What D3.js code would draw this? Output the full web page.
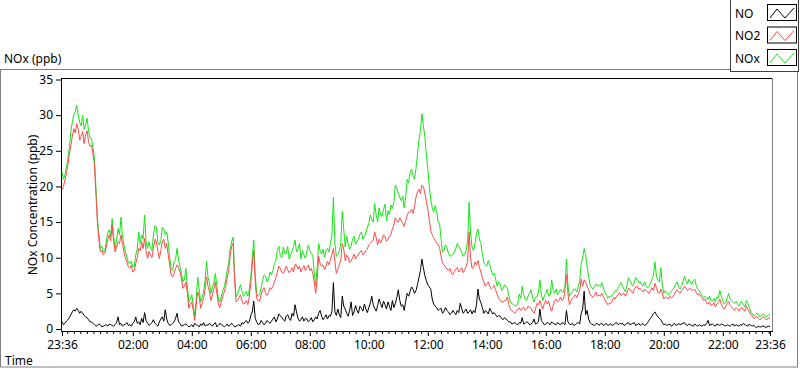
<!DOCTYPE html>
<html lang="en">
<head>
<meta charset="UTF-8" />
<title>NOx (ppb)</title>
<script src="https://cdn.jsdelivr.net/npm/d3@7"></script>
<style>
    body { margin: 0; background: #fff; overflow: hidden; }
    svg { display: block; font-family: 'Noto Sans', sans-serif; }
    .axis text { font-size: 12px; fill: #000; font-family: 'Noto Sans', sans-serif; }
    .axis line { stroke: #000; }
    .axis path { display: none; }
</style>
</head>
<body>
<svg id="chart" width="800" height="369"></svg>
<script>
    // readings every 3 minutes from 23:36: the "samples" arrays hold 23:36, 23:42, ...
    // and the "half" arrays hold the readings in between (23:39, 23:45, ...)
    const startTime = new Date(2000, 0, 1, 23, 36);
    const stepMinutes = 3;

    const noSamples = [
        1.0, 0.8, 1.3, 2.0, 2.7, 2.9, 2.2, 2.2, 1.7, 1.3,
        1.0, 0.6, 0.5, 0.6, 0.4, 0.6, 0.7, 0.5, 0.6, 1.7,
        0.8, 0.6, 0.9, 0.6, 0.8, 1.7, 1.0, 1.5, 2.3, 0.8,
        0.7, 1.3, 0.6, 1.0, 1.7, 2.7, 0.8, 0.6, 1.0, 2.2,
        0.8, 0.5, 0.7, 0.3, 0.6, 0.8, 0.5, 0.7, 0.9,
        0.6, 0.8, 0.4, 0.9, 0.5, 0.6, 0.3, 0.7, 0.5, 0.6,
        0.4, 0.6, 0.9, 1.0, 0.8, 1.9, 3.9, 1.0, 0.7, 0.9,
        0.8, 1.0, 1.1, 1.7, 1.4, 1.9, 1.3, 1.8, 1.5, 2.2,
        3.4, 1.5, 1.3, 1.1, 1.4, 1.2, 1.0, 1.7, 2.2, 1.8,
        1.6, 1.4, 1.8, 6.5, 1.9, 2.0, 4.6, 2.8,
        1.8, 3.8, 2.4, 2.6, 3.2, 2.5, 2.8, 3.0, 4.6, 2.9,
        3.3, 3.6, 3.9, 2.8, 3.2, 4.0, 3.6, 5.5, 3.2, 2.6,
        5.0, 5.3, 5.6, 5.4, 7.2, 9.8, 7.5, 6.2, 5.6, 3.5,
        3.0, 2.8, 2.2, 3.0, 2.4, 2.2, 2.3, 2.6, 3.6, 2.2,
        2.8, 2.4, 2.1, 2.3, 5.6,
        3.7, 2.2, 2.4, 2.9, 2.1, 2.0, 1.9, 1.5, 1.6, 1.2,
        1.0, 0.8, 0.7, 0.9, 1.6, 0.8, 0.9, 0.7, 1.4, 0.8,
        2.8, 0.9, 0.7, 0.8, 1.0, 0.7, 0.9, 0.6, 0.8, 2.6,
        0.7, 0.8, 0.6, 0.9, 2.2, 5.3, 2.6, 0.9, 0.6, 0.7,
        0.5, 0.8, 0.6, 0.5, 0.7, 0.6, 0.9, 0.8,
        0.8, 0.6, 0.9, 0.7, 0.9, 0.6, 0.5, 0.7, 0.6, 1.2,
        1.8, 2.4, 1.7, 1.3, 0.6, 0.5, 0.7, 0.5, 0.6, 0.8,
        0.7, 0.9, 0.5, 0.6, 0.4, 0.5, 0.6, 0.4, 0.5, 1.2,
        0.6, 0.5, 0.7, 0.5, 0.6, 0.4, 0.5, 0.6, 0.4, 0.5,
        0.6, 0.8, 0.5, 0.7, 0.4, 0.3, 0.4, 0.3, 0.4, 0.3, 0.3
    ];
    const noHalf = [
        0.6, 1.1, 1.6, 2.4, 2.5, 2.6, 2.5, 1.9, 1.6, 1.0,
        0.8, 0.4, 0.7, 0.3, 0.5, 0.4, 0.6, 0.4, 0.9, 0.6,
        0.4, 0.7, 0.5, 0.4, 1.0, 0.8, 0.6, 0.9, 1.2, 0.5,
        0.9, 0.8, 0.4, 1.4, 1.1, 1.4, 0.5, 0.8, 1.5, 1.0,
        0.4, 0.6, 0.5, 0.4, 0.3, 0.6, 0.3, 0.5, 0.4, 0.5,
        0.6, 0.7, 0.3, 0.8, 0.5, 0.5, 0.4, 0.8, 0.3, 0.5,
        0.4, 0.7, 1.2, 1.0, 2.4, 1.5, 0.6, 1.2, 0.6, 1.2,
        0.8, 1.4, 1.0, 2.1, 1.6, 1.1, 2.0, 1.2, 1.8, 2.4,
        1.1, 1.7, 1.5, 1.0, 1.6, 1.3, 1.4, 2.6, 1.3, 2.0,
        1.9, 2.5, 2.4, 2.8, 1.6, 3.2, 2.2, 2.6, 1.9, 3.3,
        2.2, 2.9, 3.5, 2.3, 3.6, 3.4, 2.5, 4.2, 3.0, 3.4,
        3.8, 2.6, 3.0, 4.4, 4.0, 3.4, 3.9, 4.6, 5.9, 5.0,
        6.2, 8.2, 8.6, 6.8, 5.9, 4.2, 3.2, 2.6, 2.9, 2.5,
        2.6, 2.0, 2.6, 2.0, 2.3, 2.9, 2.5, 2.2, 2.7, 2.6,
        3.4, 4.2, 3.0, 2.6, 2.1, 2.5, 2.3, 1.7, 1.8, 1.3,
        1.4, 1.0, 0.7, 0.9, 0.6, 0.8, 0.7, 1.0, 0.6, 0.9,
        0.7, 1.0, 1.2, 0.6, 0.9, 0.6, 0.8, 0.6, 0.7, 0.9,
        0.6, 1.0, 0.6, 0.5, 0.8, 0.7, 2.8, 2.0, 1.4, 0.7,
        0.5, 0.8, 0.7, 0.5, 0.8, 0.6, 0.5, 0.8, 0.6, 0.7,
        0.5, 0.8, 0.6, 0.8, 0.5, 0.8, 0.7, 0.5, 0.9, 1.5,
        2.2, 2.0, 1.5, 0.9, 0.7, 0.6, 0.4, 0.8, 0.5, 0.6,
        0.8, 0.6, 0.7, 0.5, 0.7, 0.4, 0.5, 0.6, 0.8, 0.5,
        0.7, 0.4, 0.6, 0.7, 0.5, 0.6, 0.4, 0.7, 0.6, 0.4,
        0.5, 0.6, 0.4, 0.5, 0.5, 0.2, 0.3, 0.4, 0.2, 0.4
    ];

    const no2Samples = [
        19.5, 20.9, 23.0, 25.8, 28.1, 28.8, 26.5, 27.7, 27.2, 26.3,
        25.8, 23.0, 15.0, 10.8, 10.4, 11.5, 13.2, 14.6, 10.8, 12.2,
        13.2, 10.8, 9.4, 8.5, 8.0, 9.2, 11.3, 12.2, 12.7, 9.9,
        10.4, 11.3, 12.2, 9.9, 12.2, 11.3, 10.4, 7.6, 7.8, 9.0,
        8.0, 5.7, 6.6, 2.9, 3.8, 1.2, 5.2, 2.9, 4.3,
        7.3, 5.2, 4.8, 6.6, 3.5, 3.8, 5.2, 7.2, 10.3, 12.0,
        3.8, 4.4, 4.0, 3.6, 3.4, 6.5, 11.0, 4.3, 3.9, 5.5,
        5.0, 5.1, 5.6, 6.6, 8.0, 8.5, 7.8, 8.8, 7.9, 8.6,
        9.1, 8.4, 8.0, 8.9, 8.6, 8.2, 7.8, 5.0, 10.2, 8.8,
        8.3, 9.5, 9.8, 11.3, 7.8, 9.0, 12.0, 9.6,
        10.0, 9.5, 10.5, 10.2, 10.8, 10.4, 11.0, 11.8, 12.3, 13.6,
        11.8, 12.1, 13.2, 12.3, 13.0, 14.0, 15.6, 15.0, 15.2, 14.4,
        16.0, 16.4, 16.2, 18.5, 19.6, 20.2, 19.0, 16.8, 13.8, 12.8,
        12.0, 11.4, 9.2, 8.7, 8.2, 7.8, 8.1, 8.6, 8.3, 7.9,
        8.8, 13.6, 8.5, 9.4, 9.6,
        8.0, 6.6, 6.4, 6.0, 5.8, 5.5, 4.3, 3.8, 4.0, 4.5,
        2.7, 2.4, 2.5, 3.0, 2.9, 2.6, 3.2, 2.9, 2.2, 3.6,
        4.0, 2.8, 4.0, 3.9, 2.5, 4.0, 3.8, 4.5, 4.2, 7.6,
        3.4, 4.3, 4.8, 4.9, 7.0, 6.9, 6.0, 4.9, 4.4, 5.2,
        4.8, 5.0, 4.1, 3.4, 3.6, 4.4, 4.6, 5.1,
        4.9, 4.6, 5.7, 5.3, 5.6, 6.0, 5.7, 5.2, 5.3, 5.0,
        5.8, 6.4, 5.2, 5.6, 4.2, 4.4, 4.6, 4.5, 5.3, 5.2,
        5.4, 6.0, 5.4, 5.7, 5.5, 5.1, 4.9, 4.4, 4.2, 3.5,
        3.3, 3.7, 3.5, 4.2, 3.0, 3.2, 3.9, 3.1, 2.6, 2.8,
        2.9, 2.7, 3.2, 2.4, 1.8, 1.6, 1.5, 1.4, 1.6, 1.3, 1.4
    ];
    const no2Half = [
        20.0, 21.8, 24.5, 27.0, 27.5, 28.0, 27.0, 26.0, 27.8, 25.6,
        24.5, 19.0, 12.5, 11.0, 10.6, 12.6, 12.4, 12.3, 11.5, 12.0,
        12.0, 10.0, 8.7, 8.9, 8.2, 10.0, 11.0, 11.3, 11.0, 10.9,
        10.0, 12.6, 11.0, 11.0, 12.6, 12.0, 9.0, 7.3, 8.5, 8.6,
        7.0, 6.0, 5.0, 3.5, 2.6, 3.4, 4.6, 3.6, 5.6, 6.0,
        4.0, 5.6, 5.0, 3.0, 4.6, 6.0, 8.2, 11.6, 7.0, 4.0,
        4.8, 3.5, 4.0, 4.5, 9.0, 6.5, 4.0, 4.8, 5.8, 4.7,
        5.8, 6.0, 7.2, 8.8, 8.0, 8.3, 8.3, 8.2, 8.0, 9.0,
        8.8, 8.5, 8.2, 9.0, 8.5, 6.6, 7.0, 9.2, 9.0, 8.8,
        9.0, 10.4, 9.5, 8.4, 9.6, 11.2, 10.4, 9.3, 10.0, 9.8,
        10.5, 11.0, 10.6, 11.2, 12.0, 12.5, 12.8, 12.6, 12.5, 12.9,
        12.6, 13.3, 14.6, 15.2, 15.6, 14.8, 15.2, 16.4, 16.8, 17.2,
        19.2, 19.0, 20.0, 18.0, 15.4, 13.2, 12.4, 11.9, 10.2, 9.0,
        8.4, 8.5, 7.6, 8.4, 8.0, 8.6, 8.3, 9.5, 10.0, 8.6,
        9.0, 8.6, 7.2, 6.0, 6.6, 5.6, 6.1, 4.9, 4.1, 3.8,
        4.0, 3.4, 2.6, 2.2, 2.8, 2.6, 3.1, 2.8, 3.0, 2.5,
        2.8, 3.4, 3.3, 3.6, 3.5, 3.0, 3.3, 4.2, 4.0, 4.0,
        5.5, 5.0, 3.9, 4.5, 4.4, 5.5, 6.0, 6.5, 5.5, 4.6,
        4.8, 4.6, 4.6, 4.6, 3.8, 3.6, 3.9, 4.2, 4.8, 4.7,
        5.0, 5.0, 5.6, 5.0, 5.9, 5.6, 5.4, 5.6, 5.2, 5.4,
        5.4, 5.8, 5.0, 5.0, 4.5, 4.2, 4.4, 4.8, 5.5, 5.0,
        5.6, 5.7, 5.6, 5.4, 5.6, 4.8, 4.6, 4.0, 3.6, 3.8,
        3.4, 3.1, 3.7, 3.5, 2.8, 3.6, 3.3, 2.8, 3.0, 2.5,
        3.0, 2.5, 2.8, 2.0, 1.5, 1.8, 1.3, 1.7, 1.4, 1.6
    ];

    const noxSamples = [
        22.0, 21.6, 23.9, 27.7, 30.0, 31.4, 29.0, 30.0, 28.6, 27.7,
        26.7, 23.9, 15.5, 11.3, 10.8, 12.2, 13.9, 15.5, 11.3, 14.1,
        15.7, 11.8, 10.1, 9.2, 8.7, 10.4, 13.6, 13.2, 16.0, 11.3,
        11.3, 13.2, 14.3, 11.8, 14.3, 13.2, 12.2, 8.5, 9.4, 11.3,
        8.7, 6.6, 8.5, 3.8, 4.8, 1.8, 7.3, 3.8, 5.2,
        9.5, 6.5, 5.8, 7.8, 4.2, 4.6, 5.9, 8.2, 11.2, 12.9,
        4.5, 5.6, 5.3, 4.9, 4.6, 7.2, 12.5, 5.0, 4.8, 6.8,
        7.4, 7.0, 7.6, 9.2, 11.0, 10.3, 11.5, 10.6, 9.8, 10.9,
        12.5, 11.2, 9.8, 10.4, 10.8, 11.0, 10.3, 6.2, 12.0, 10.5,
        10.1, 11.3, 12.0, 18.5, 10.2, 10.9, 16.5, 11.5,
        12.0, 11.6, 13.0, 12.3, 13.3, 12.6, 13.5, 14.8, 15.4, 17.6,
        15.0, 16.0, 16.8, 15.2, 16.0, 16.9, 20.2, 19.0, 18.0, 17.0,
        21.0, 22.0, 21.5, 22.5, 26.5, 30.2, 27.0, 22.5, 18.2, 16.4,
        16.5, 14.8, 10.8, 11.8, 10.6, 10.3, 10.8, 12.0, 11.2, 10.2,
        11.0, 17.8, 11.5, 12.0, 14.0,
        12.0, 9.3, 8.8, 9.0, 7.6, 7.0, 6.6, 5.4, 6.2, 5.6,
        3.8, 3.5, 3.2, 4.9, 6.0, 4.2, 4.6, 5.5, 3.8, 4.5,
        6.9, 4.0, 5.0, 4.6, 6.9, 5.0, 4.8, 5.6, 5.2, 9.8,
        4.6, 5.2, 5.6, 5.9, 9.2, 11.3, 8.8, 6.2, 5.6, 6.3,
        6.2, 6.5, 5.1, 4.3, 4.5, 5.0, 5.3, 6.2,
        6.0, 5.2, 7.2, 6.3, 6.5, 7.0, 6.6, 6.0, 6.1, 6.0,
        7.0, 9.4, 6.8, 8.6, 5.0, 5.1, 5.0, 5.5, 6.3, 5.9,
        6.0, 7.4, 6.3, 6.6, 6.8, 6.1, 5.4, 4.7, 4.6, 4.2,
        4.0, 4.3, 4.5, 5.4, 3.9, 3.7, 5.0, 4.0, 3.6, 3.5,
        3.7, 3.4, 4.0, 3.0, 2.1, 2.0, 2.1, 1.9, 2.0, 1.8, 1.9
    ];
    const noxHalf = [
        21.0, 22.8, 25.5, 29.0, 30.5, 30.0, 28.5, 28.0, 29.6, 26.8,
        25.5, 19.8, 13.2, 11.6, 11.0, 13.5, 13.0, 13.0, 12.5, 13.2,
        13.0, 10.8, 9.3, 9.5, 8.8, 11.2, 12.0, 12.6, 12.2, 12.2,
        11.0, 14.5, 12.2, 12.3, 14.0, 13.6, 10.0, 8.2, 9.8, 9.7,
        7.8, 7.0, 6.0, 4.2, 3.3, 4.2, 5.6, 4.4, 6.8, 7.2,
        5.0, 6.6, 6.0, 3.8, 5.4, 7.0, 9.3, 12.2, 7.8, 4.8,
        6.2, 4.6, 5.3, 5.6, 10.0, 7.5, 4.6, 5.8, 7.6, 6.6,
        8.0, 8.2, 9.6, 11.6, 10.0, 10.6, 11.6, 10.4, 11.6, 10.8,
        12.0, 11.0, 9.9, 11.8, 10.6, 8.0, 8.6, 11.0, 11.2, 11.0,
        10.8, 13.2, 12.0, 10.4, 12.0, 14.0, 13.0, 11.2, 12.6, 11.9,
        12.6, 13.6, 13.0, 14.2, 16.0, 15.0, 16.0, 17.0, 15.8, 17.5,
        16.6, 17.4, 17.8, 19.8, 18.5, 18.6, 18.5, 20.5, 22.4, 21.0,
        24.5, 27.8, 28.5, 24.5, 20.0, 17.0, 17.3, 15.0, 12.6, 11.0,
        11.4, 10.2, 10.5, 11.3, 11.6, 10.8, 10.5, 12.4, 13.4, 11.0,
        13.4, 12.6, 10.6, 9.0, 9.6, 8.3, 7.8, 6.0, 6.3, 5.6,
        6.0, 4.6, 3.5, 3.3, 3.6, 4.3, 4.8, 4.0, 5.0, 4.4,
        4.4, 5.2, 4.8, 4.6, 5.6, 4.8, 5.4, 5.6, 5.2, 5.2,
        6.0, 6.2, 5.0, 5.6, 5.2, 6.8, 10.0, 10.4, 7.4, 5.8,
        6.0, 6.0, 6.0, 5.8, 4.8, 4.6, 4.8, 5.4, 5.8, 6.5,
        5.6, 6.0, 6.8, 6.0, 7.2, 6.5, 6.2, 6.6, 5.8, 6.4,
        7.5, 7.4, 6.6, 6.2, 5.4, 4.8, 5.3, 5.8, 6.6, 5.6,
        6.6, 6.8, 7.0, 6.3, 7.0, 5.6, 5.0, 4.4, 4.3, 4.6,
        3.9, 3.8, 4.4, 4.6, 3.5, 4.4, 4.2, 3.7, 3.9, 3.2,
        3.8, 3.1, 3.6, 2.4, 1.8, 2.2, 1.7, 2.1, 1.7, 2.0
    ];

    const seriesNames = ["NO", "NO2", "NOx"];
    const seriesColors = ["#000000", "#ff4a4a", "#14e614"];
    const yTickValues = [0, 5, 10, 15, 20, 25, 30, 35];
    const xTickHours = [2, 4, 6, 8, 10, 12, 14, 16, 18, 20, 22];

    // put the in-between readings back in time order
    function interleave(samples, half) {
        const out = [];
        samples.forEach((v, i) => {
            out.push(v);
            if (i < half.length) out.push(half[i]);
        });
        return out;
    }

    const valueArrays = [
        interleave(noSamples, noHalf),
        interleave(no2Samples, no2Half),
        interleave(noxSamples, noxHalf)
    ];

    const svg = d3.select("#chart");
    const plotLeft = 62, plotRight = 770, plotTop = 79.5, plotBottom = 329;

    const endTime = d3.timeMinute.offset(startTime, stepMinutes * (valueArrays[0].length - 1));
    const x = d3.scaleTime().domain([startTime, endTime]).range([plotLeft, plotRight]);
    const y = d3.scaleLinear().domain([0, 35]).range([plotBottom, plotTop]);

    // outer frame
    svg.append("rect")
        .attr("x", 0.5).attr("y", 69.5)
        .attr("width", 797).attr("height", 297.5)
        .attr("fill", "none").attr("stroke", "#808080");

    svg.append("text")
        .attr("x", 4).attr("y", 63)
        .style("font-size", "12px")
        .text("NOx (ppb)");

    // major x ticks: both ends plus every 2 h
    const majorTicks = [startTime]
        .concat(xTickHours.map(h => new Date(2000, 0, 2, h, 0)))
        .concat([endTime]);
    const minorStep = 120 / 9; // minutes
    const anchor = new Date(2000, 0, 2, 2, 0);
    const minorTicks = d3.range(-11, 100)
        .map(k => new Date(+anchor + k * minorStep * 60000))
        .filter(d => d >= startTime && d <= endTime)
        .filter(d => !majorTicks.some(m => Math.abs(m - d) < 60000));

    const fmt = d3.timeFormat("%H:%M");

    svg.append("g")
        .attr("class", "axis")
        .attr("transform", "translate(0,331)")
        .call(d3.axisBottom(x).tickValues(minorTicks).tickSize(3).tickFormat(""));

    svg.append("g")
        .attr("class", "axis")
        .attr("transform", "translate(0,331)")
        .call(d3.axisBottom(x).tickValues(majorTicks).tickSize(5).tickPadding(4).tickFormat(fmt));

    svg.append("g")
        .attr("class", "axis")
        .attr("transform", "translate(61,0)")
        .call(d3.axisLeft(y).tickValues(yTickValues).tickSize(5).tickPadding(3));

    svg.append("text")
        .attr("transform", "translate(37,205) rotate(-90)")
        .attr("text-anchor", "middle")
        .style("font-size", "12px")
        .text("NOx Concentration (ppb)");

    svg.append("text")
        .attr("x", 5).attr("y", 365)
        .style("font-size", "12px")
        .text("Time");

    // plot border
    svg.append("line").attr("x1", 61.5).attr("x2", 773).attr("y1", 78.5).attr("y2", 78.5).attr("stroke", "#000");
    svg.append("line").attr("x1", 61.5).attr("x2", 61.5).attr("y1", 78).attr("y2", 331.5).attr("stroke", "#000");
    svg.append("line").attr("x1", 772.5).attr("x2", 772.5).attr("y1", 78).attr("y2", 331.5).attr("stroke", "#808080");
    svg.append("line").attr("x1", 61).attr("x2", 773).attr("y1", 331.5).attr("y2", 331.5).attr("stroke", "#000");

    const line = d3.line()
        .x((d, i) => x(d3.timeMinute.offset(startTime, i * stepMinutes)))
        .y(d => y(d));

    // draw NOx first, NO last (on top)
    [2, 1, 0].forEach(k => {
        svg.append("path")
            .datum(valueArrays[k])
            .attr("fill", "none")
            .attr("stroke", seriesColors[k])
            .attr("stroke-width", 1)
            .attr("d", line);
    });

    // legend
    const legend = svg.append("g");
    legend.append("rect")
        .attr("x", 730.5).attr("y", -0.5)
        .attr("width", 68).attr("height", 72)
        .attr("fill", "#fff").attr("stroke", "#404040");

    const swatchLine = d3.line();
    seriesNames.forEach((name, i) => {
        const cy = 13 + i * 22.5;
        legend.append("text")
            .attr("x", 735).attr("y", cy + 4.5)
            .style("font-size", "12px")
            .text(name);
        legend.append("rect")
            .attr("x", 767.5).attr("y", cy - 8.5)
            .attr("width", 29).attr("height", 16)
            .attr("fill", "#fff").attr("stroke", "#000");
        legend.append("path")
            .attr("d", swatchLine([[770, cy + 5], [777, cy - 4], [785, cy + 5], [794, cy - 5]]))
            .attr("fill", "none")
            .attr("stroke", seriesColors[i]);
    });
</script>
</body>
</html>
